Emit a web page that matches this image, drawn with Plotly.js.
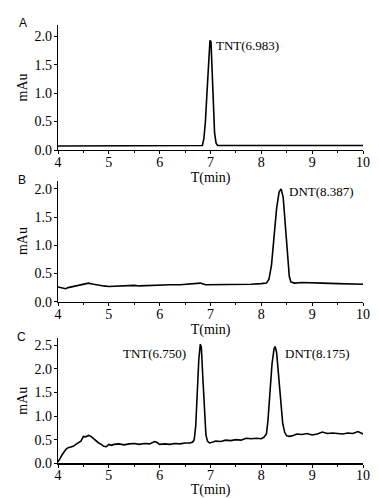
<!DOCTYPE html>
<html><head><meta charset="utf-8">
<script src="https://cdn.plot.ly/plotly-3.0.1.min.js"></script>
<style>html,body{margin:0;padding:0;background:#fff}#c{width:379px;height:498px}</style>
</head><body><div id="c"></div>
<script>
// Panel A: TNT standard
const timeA = [4.0, 5.0, 6.0, 6.5, 6.8, 6.84, 6.87, 6.90, 6.93, 6.96, 6.99, 7.01, 7.03, 7.05, 7.08, 7.11, 7.14, 7.5, 8.0, 9.0, 10.0];
const absA  = [0.07, 0.07, 0.07, 0.07, 0.07, 0.08, 0.2, 0.5, 1.0, 1.6, 1.93, 1.9, 1.45, 0.8, 0.3, 0.12, 0.08, 0.08, 0.08, 0.08, 0.08];
// Panel B: DNT standard
const timeB = [4.00,4.10,4.15,4.20,4.30,4.40,4.50,4.60,4.70,4.80,4.90,5.00,5.20,5.40,5.50,5.60,5.80,6.00,6.20,6.40,6.60,6.80,6.90,7.00,7.20,7.40,7.60,7.80,8.00,8.10,8.15,8.20,8.25,8.30,8.35,8.39,8.43,8.47,8.51,8.55,8.58,8.65,8.80,9.00,9.20,9.50,9.80,10.0];
const absB  = [0.26,0.24,0.23,0.25,0.27,0.29,0.32,0.33,0.31,0.29,0.28,0.27,0.28,0.28,0.29,0.28,0.29,0.29,0.30,0.30,0.31,0.33,0.30,0.30,0.30,0.31,0.31,0.31,0.32,0.33,0.40,0.65,1.15,1.65,1.95,2.0,1.85,1.4,0.85,0.45,0.35,0.33,0.34,0.33,0.33,0.32,0.32,0.31];
// Panel C: mixture
const timeC = [4.00,4.02,4.05,4.08,4.12,4.16,4.20,4.25,4.30,4.35,4.40,4.45,4.50,4.55,4.60,4.65,4.70,4.75,4.80,4.85,4.90,4.95,5.00,5.05,5.10,5.20,5.30,5.40,5.50,5.60,5.70,5.80,5.90,5.95,6.00,6.10,6.20,6.30,6.40,6.50,6.60,6.65,6.68,6.71,6.74,6.77,6.80,6.82,6.85,6.88,6.91,6.94,6.98,7.05,7.10,7.20,7.30,7.40,7.50,7.60,7.70,7.80,7.90,8.00,8.05,8.10,8.13,8.17,8.21,8.25,8.27,8.30,8.34,8.38,8.42,8.46,8.50,8.55,8.60,8.70,8.80,8.90,9.00,9.10,9.20,9.30,9.40,9.50,9.60,9.70,9.80,9.90,9.95,10.0];
const absC  = [0.03,0.08,0.12,0.18,0.25,0.30,0.33,0.35,0.36,0.40,0.44,0.47,0.57,0.56,0.59,0.57,0.52,0.47,0.43,0.40,0.36,0.35,0.40,0.38,0.40,0.41,0.39,0.41,0.42,0.40,0.42,0.41,0.46,0.44,0.40,0.41,0.40,0.42,0.41,0.43,0.43,0.45,0.50,0.8,1.5,2.2,2.52,2.45,1.8,1.1,0.6,0.47,0.43,0.45,0.47,0.46,0.49,0.48,0.50,0.49,0.53,0.52,0.53,0.52,0.55,0.62,0.9,1.5,2.1,2.42,2.47,2.35,1.9,1.3,0.85,0.65,0.58,0.57,0.58,0.62,0.61,0.63,0.60,0.62,0.66,0.63,0.64,0.63,0.62,0.64,0.63,0.67,0.64,0.62];

const panelLabels = ["A", "B", "C"];
const peakLabels = ["TNT(6.983)", "DNT(8.387)", "TNT(6.750)", "DNT(8.175)"];
const xTitle = "T(min)";
const yTitle = "mAu";

const W = 379, H = 498;
const serif = "Liberation Serif, Times New Roman, serif";
const sans = "Liberation Sans, Arial, sans-serif";
const line = {color: "#000", width: 1.6};
const traces = [
  {x: timeA, y: absA, xaxis: "x", yaxis: "y", mode: "lines", line: line},
  {x: timeB, y: absB, xaxis: "x2", yaxis: "y2", mode: "lines", line: line},
  {x: timeC, y: absC, xaxis: "x3", yaxis: "y3", mode: "lines", line: line}
];
const xd = [58/W, 363/W];
function xax(anchor){
  return {domain: xd, anchor: anchor, range: [4, 10], dtick: 1, showgrid: false, zeroline: false,
    showline: true, linecolor: "#000", linewidth: 1.2, ticks: "outside", ticklen: 3, tickwidth: 1, tickcolor: "#000",
    ticklabelstandoff: -4,
    minor: {dtick: 0.5, ticks: "outside", ticklen: 2, tickcolor: "#000"},
    tickfont: {family: serif, size: 14, color: "#000"},
    title: {text: xTitle, font: {family: serif, size: 14, color: "#000"}, standoff: 0}};
}
function yax(anchor, dom, rng, dt){
  return {domain: dom, anchor: anchor, range: rng, dtick: dt, tickformat: ".1f", showgrid: false, zeroline: false,
    showline: true, linecolor: "#000", linewidth: 1.2, ticks: "outside", ticklen: 3, tickwidth: 1, tickcolor: "#000",
    ticklabelstandoff: -1,
    tickfont: {family: serif, size: 14, color: "#000"},
    title: {text: yTitle, font: {family: serif, size: 14, color: "#000"}, standoff: 3}};
}
const ann = (t, x, y, xref, yref, xanchor) => ({text: t, x: x, y: y, xref: xref, yref: yref, xanchor: xanchor, yanchor: "middle", showarrow: false, font: {family: serif, size: 13, color: "#000"}});
const pann = (t, px, py) => ({text: t, x: px/W, y: 1-py/H, xref: "paper", yref: "paper", xanchor: "center", yanchor: "middle", showarrow: false, font: {family: sans, size: 12, color: "#000"}});
const layout = {
  width: W, height: H, margin: {l: 0, r: 0, t: 0, b: 0}, showlegend: false,
  paper_bgcolor: "#fff", plot_bgcolor: "#fff",
  xaxis: xax("y"), yaxis: yax("x", [348/H, 473/H], [0, 2.2], 0.5),
  xaxis2: xax("y2"), yaxis2: yax("x2", [196.3/H, 317.5/H], [0, 2.15], 0.5),
  xaxis3: xax("y3"), yaxis3: yax("x3", [34.7/H, 160/H], [0, 2.65], 0.5),
  annotations: [
    pann(panelLabels[0], 23, 23),
    pann(panelLabels[1], 22, 180),
    pann(panelLabels[2], 21, 337),
    ann(peakLabels[0], 7.07, 1.84, "x", "y", "left"),
    ann(peakLabels[1], 8.5, 1.95, "x2", "y2", "left"),
    ann(peakLabels[2], 6.56, 2.32, "x3", "y3", "right"),
    ann(peakLabels[3], 8.42, 2.32, "x3", "y3", "left")
  ]
};
Plotly.newPlot("c", traces, layout, {staticPlot: true, displayModeBar: false});
</script></body></html>
